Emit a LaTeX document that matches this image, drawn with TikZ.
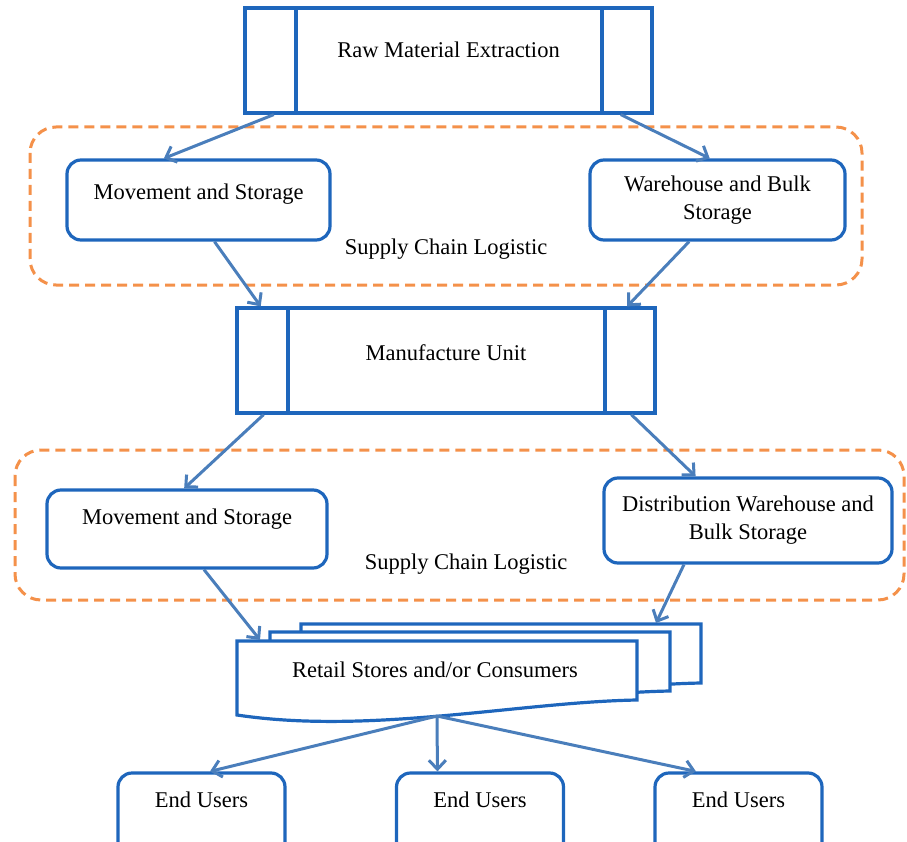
\documentclass[tikz,border=0pt]{standalone}
\usepackage{fontspec}
\setmainfont{Liberation Serif}
\usetikzlibrary{arrows.meta, positioning, calc}
\definecolor{boxBlue}{HTML}{1E66BC}
\definecolor{flowBlue}{HTML}{4A7EBB}
\definecolor{dashOrange}{HTML}{F4914A}
\tikzset{
    txt/.style={font=\fontsize{22.5}{28}\selectfont},
    procbox/.style={txt, draw=boxBlue, line width=3.2pt, fill=white, text height=14.8pt,
        path picture={
            \draw[boxBlue, line width=3.2pt] ([xshift=51pt]path picture bounding box.north west) -- ([xshift=51pt]path picture bounding box.south west);
            \draw[boxBlue, line width=3.2pt] ([xshift=-50pt]path picture bounding box.north east) -- ([xshift=-50pt]path picture bounding box.south east);
        }},
    stepbox/.style={txt, draw=boxBlue, line width=3.2pt, rounded corners=14pt, fill=white, align=center},
    flow/.style={flowBlue, line width=3pt, -{Straight Barb[length=9pt, width=17pt]}},
    group/.style={draw=dashOrange, line width=3pt, dash pattern=on 10pt off 6pt, rounded corners=26pt},
    docline/.style={draw=boxBlue, line width=3.2pt, fill=white}
}
\newcommand{\DrawDoc}[2]{
    \begin{scope}[shift={(#1,#2)}]
        \draw[docline] (0,0) -- (400,0) -- (400,59) .. controls (283,61) and (133,94) .. (0,74) -- cycle;
    \end{scope}
}

\begin{document}
\begin{tikzpicture}[x=1pt, y=-1pt]
        \useasboundingbox (0,0) rectangle (907,842);
        \clip (0,0) rectangle (907,842);

        % Logistic groups
        \draw[group] (30,127) rectangle (862,285);
        \draw[group] (15,450) rectangle (904,600);
        \node[txt] (scl1) at (446,249) {Supply Chain Logistic};
        \node[txt] (scl2) at (466,564) {Supply Chain Logistic};

        % Stage 1
        \node[procbox, minimum width=407pt, minimum height=105pt, text depth=21pt] (rme) at (448.5,60.5) {Raw Material Extraction};
        \node[stepbox, minimum width=263pt, minimum height=80pt, text height=14.8pt, text depth=16pt] (mov1) at (198.5,200) {Movement and Storage};
        \node[stepbox, minimum width=255pt, minimum height=80pt] (ware) at (717.5,200) {Warehouse and Bulk\\Storage};

        % Stage 2
        \node[procbox, minimum width=418pt, minimum height=105pt, text depth=15pt] (man) at (446,360.5) {Manufacture Unit};
        \node[stepbox, minimum width=280pt, minimum height=78pt, text height=14.8pt, text depth=24pt] (mov2) at (187,529) {Movement and Storage};
        \node[stepbox, minimum width=288pt, minimum height=85pt] (dist) at (748,520.5) {Distribution Warehouse and\\Bulk Storage};

        % Retail (back to front)
        \DrawDoc{301}{624} \DrawDoc{270}{632} \DrawDoc{237}{641}
        \node[txt] (retail) at (435,670) {Retail Stores and/or Consumers};
        \coordinate (ret-in1) at (260,640);
        \coordinate (ret-in3) at (656,623);
        \coordinate (ret-b) at (437,716);

        % End users
        \foreach \name/\x in {eu1/201.5, eu2/480, eu3/738.5}
            \node[stepbox, minimum width=167pt, minimum height=90pt, text height=14.8pt, text depth=36pt] (\name) at (\x,818) {End Users};

        % Flows
        \draw[flow] ($(rme.south west)!0.074!(rme.south east)$) -- ($(mov1.north west)!0.37!(mov1.north east)$);
        \draw[flow] ($(rme.south west)!0.92!(rme.south east)$) -- ($(ware.north west)!0.47!(ware.north east)$);
        \draw[flow] ($(mov1.south west)!0.56!(mov1.south east)$) -- ($(man.north west)!0.06!(man.north east)$);
        \draw[flow] ($(ware.south west)!0.39!(ware.south east)$) -- ($(man.north west)!0.93!(man.north east)$);
        \draw[flow] ($(man.south west)!0.067!(man.south east)$) -- ($(mov2.north west)!0.49!(mov2.north east)$);
        \draw[flow] ($(man.south west)!0.94!(man.south east)$) -- ($(dist.north west)!0.32!(dist.north east)$);
        \draw[flow] ($(mov2.south west)!0.56!(mov2.south east)$) -- (ret-in1);
        \draw[flow] ($(dist.south west)!0.28!(dist.south east)$) -- (ret-in3);
        \draw[flow] (ret-b) -- ($(eu1.north west)!0.55!(eu1.north east)$);
        \draw[flow] (ret-b) -- ($(eu2.north west)!0.25!(eu2.north east)$);
        \draw[flow] (ret-b) -- ($(eu3.north west)!0.25!(eu3.north east)$);
    \end{tikzpicture}
\end{document}
